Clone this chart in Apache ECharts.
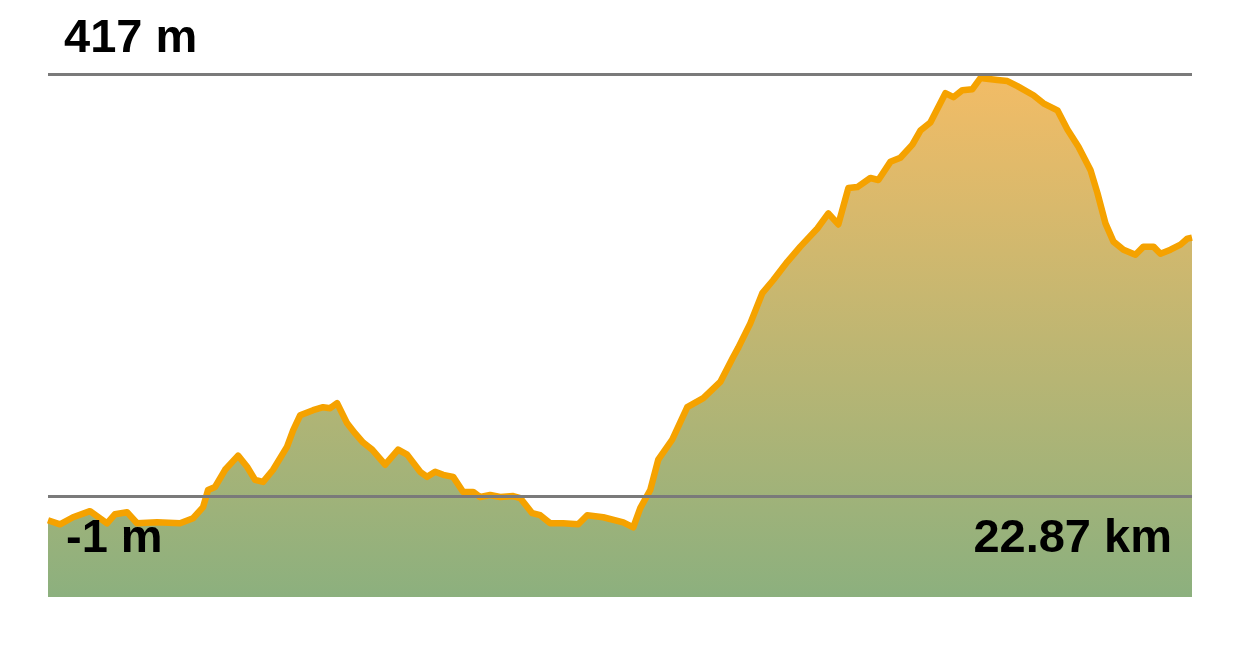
<!DOCTYPE html>
<html>
<head>
<meta charset="utf-8">
<title>Elevation profile</title>
<script src="https://cdn.jsdelivr.net/npm/echarts@6/dist/echarts.min.js"></script>
<style>
  html, body { margin: 0; padding: 0; background: #fff; }
</style>
</head>
<body>
<!-- 高程剖面图 -->
<div id="chart" style="width: 1239px; height: 654px"></div>
<script>
// distance along the route (km)
var distKm = [
  0, 0.24, 0.5, 0.84, 1.18, 1.34, 1.58, 1.78, 2.18, 2.64,
  2.9, 3.1, 3.2, 3.34, 3.54, 3.8, 3.98, 4.14, 4.3, 4.5,
  4.78, 4.9, 5.04, 5.3, 5.5, 5.64, 5.78, 5.98, 6.14, 6.3,
  6.48, 6.74, 7.0, 7.18, 7.44, 7.58, 7.74, 7.9, 8.1, 8.3,
  8.5, 8.64, 8.84, 9.04, 9.3, 9.44, 9.68, 9.84, 10.04, 10.3,
  10.6, 10.78, 11.1, 11.5, 11.7, 11.84, 12.04, 12.2, 12.48, 12.78,
  13.1, 13.44, 13.7, 13.8, 14.04, 14.28, 14.5, 14.78, 15.04, 15.38,
  15.6, 15.8, 16.0, 16.18, 16.44, 16.6, 16.84, 17.04, 17.28, 17.44,
  17.64, 17.94, 18.1, 18.28, 18.48, 18.64, 18.98, 19.18, 19.38, 19.7,
  19.9, 20.18, 20.38, 20.6, 20.84, 20.98, 21.14, 21.3, 21.5, 21.74,
  21.9, 22.1, 22.24, 22.44, 22.64, 22.78, 22.87
];
// elevation (m)
var elevM = [
  -25, -29, -22, -16, -28, -19, -17, -28, -27, -28,
  -23, -12, 5, 8, 25, 39, 28, 15, 13, 25,
  48, 64, 79, 84, 87, 86, 91, 71, 61, 52,
  45, 30, 45, 40, 23, 18, 23, 20, 18, 3,
  3, -2, 0, -2, -1, -3, -18, -20, -28, -28,
  -29, -20, -22, -27, -32, -13, 5, 35, 55, 87,
  96, 112, 137, 146, 170, 200, 213, 231, 246, 264,
  279, 268, 304, 305, 314, 312, 330, 334, 347, 361,
  369, 398, 394, 401, 402, 413, 411, 410, 405, 396,
  388, 381, 362, 345, 322, 299, 269, 251, 243, 238,
  246, 246, 239, 243, 248, 254, 255
];

var maxLabel = 417;   // m
var minLabel = -1;    // m
var totalKm = 22.87;

var myChart = echarts.init(document.getElementById("chart"));

var labelFont = 'bold 47px "Liberation Sans", Arial, sans-serif';

var option = {
  animation: false,
  grid: {
    left: 48,
    right: 47,
    top: 74,
    bottom: 57,
  },
  xAxis: {
    type: "value",
    min: 0,
    max: totalKm,
    show: false,
  },
  yAxis: {
    type: "value",
    min: -101,
    max: 417,
    show: false,
    splitLine: { show: false },
  },
  series: [
    {
      type: "line",
      data: distKm.map(function (d, i) {
        return [d, elevM[i]];
      }),
      showSymbol: false,
      clip: true,
      lineStyle: {
        color: "#F5A200",
        width: 6.5,
        cap: "butt",
        join: "round",
      },
      areaStyle: {
        origin: "start",
        opacity: 1,
        color: new echarts.graphic.LinearGradient(0, 0, 0, 1, [
          { offset: 0, color: "#F2BC66" },
          { offset: 1, color: "#8CB07E" },
        ]),
      },
      markLine: {
        silent: true,
        symbol: "none",
        label: { show: false },
        lineStyle: { color: "#7a7a7a", width: 3, type: "solid" },
        data: [{ yAxis: maxLabel }, { yAxis: minLabel }],
        z: 5,
      },
    },
  ],
  graphic: [
    {
      type: "text",
      x: 64,
      y: 39,
      z: 10,
      style: {
        text: maxLabel + " m",
        font: labelFont,
        fill: "#000",
        verticalAlign: "middle",
      },
    },
    {
      type: "text",
      x: 66,
      y: 539,
      z: 10,
      style: {
        text: minLabel + " m",
        font: labelFont,
        fill: "#000",
        verticalAlign: "middle",
      },
    },
    {
      type: "text",
      x: 1172,
      y: 539,
      z: 10,
      style: {
        text: totalKm + " km",
        font: labelFont,
        fill: "#000",
        align: "right",
        verticalAlign: "middle",
      },
    },
  ],
};

myChart.setOption(option);
</script>
</body>
</html>
